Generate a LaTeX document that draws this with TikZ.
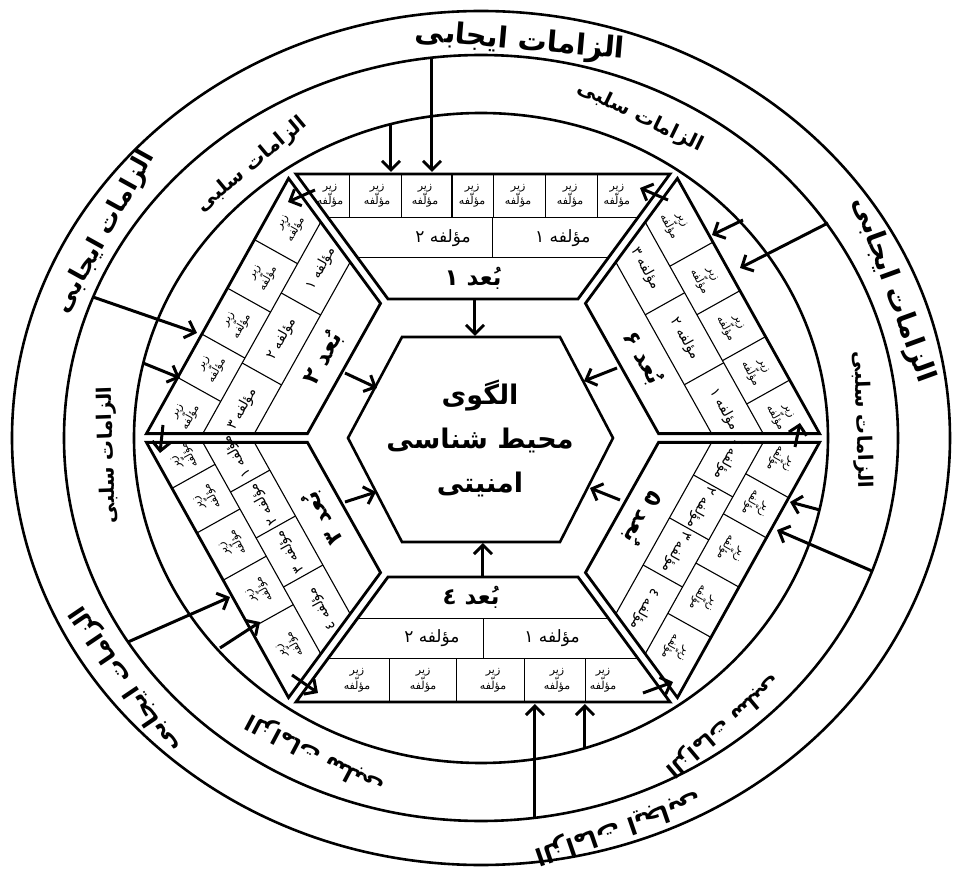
\documentclass[tikz,border=0pt]{standalone}
\usepackage{fontspec}
\usetikzlibrary{calc,arrows.meta}
\TeXXeTstate=1
\newfontfamily\arabicfont[Script=Arabic]{DejaVu Sans}
\newcommand{\RL}[1]{\beginR #1\endR}
\tikzset{
  ringline/.style={line width=2.6pt},
  segline/.style={line width=2.8pt, line join=miter},
  gridline/.style={line width=1.1pt},
  hexline/.style={line width=2.6pt, line join=miter},
  arr/.style={line width=3pt, -{Straight Barb[length=9pt,width=18pt]}},
  outerlabel/.style={font=\arabicfont\bfseries\fontsize{#1}{#1}\selectfont, inner sep=0pt},
  outerlabel/.default=28,
  innerlabel/.style={font=\arabicfont\bfseries\fontsize{#1}{#1}\selectfont, inner sep=0pt},
  innerlabel/.default=20,
  corelabel/.style={font=\arabicfont\bfseries\fontsize{27}{44}\selectfont, align=center, inner sep=0pt},
  dimlabel/.style={font=\arabicfont\bfseries\fontsize{23}{26}\selectfont, inner sep=0pt},
  midlabel/.style={font=\arabicfont\fontsize{14}{16}\selectfont, inner sep=0pt},
  midbig/.style={font=\arabicfont\fontsize{17}{19}\selectfont},
  sublabel/.style={font=\arabicfont\fontsize{11}{12.5}\selectfont, align=center, inner sep=0pt},
}
\newcommand{\mkseg}[5]{%
  \coordinate (#1-Oa) at ($(#2)!5pt!(#3)$);
  \coordinate (#1-Ob) at ($(#3)!5pt!(#2)$);
  \coordinate (#1-Ia) at ($(#4)!5pt!(#5)$);
  \coordinate (#1-Ib) at ($(#5)!5pt!(#4)$);
  \foreach \nm/\f in {R1/0.35,R2/0.67,M1/0.175,M2/0.51,M3/0.835}{%
    \coordinate (#1-\nm a) at ($(#1-Oa)!\f!(#1-Ia)$);
    \coordinate (#1-\nm b) at ($(#1-Ob)!\f!(#1-Ib)$);
  }%
  \draw[segline] (#1-Oa) -- (#1-Ob) -- (#1-Ib) -- (#1-Ia) -- cycle;
  \draw[gridline] (#1-R1a) -- (#1-R1b) (#1-R2a) -- (#1-R2b);
}
\newcommand{\outcells}[4]{%
  \foreach \pos in {#2}{%
    \coordinate (tmp) at ($(#1-Oa)!\pos!(#1-Ob)$);
    \draw[gridline] (tmp) -- ($(#1-R1a)!(tmp)!(#1-R1b)$);
  }%
  \foreach \pos [count=\k] in {#3}{%
    \coordinate (tmp) at ($(#1-Oa)!\pos!(#1-Ob)$);
    \node[sublabel, rotate=#4] (#1-z\k) at ($(#1-M1a)!(tmp)!(#1-M1b)$) {\RL{زیر}\\\RL{مؤلّفه}};
  }%
}
\newcommand{\midcells}[5]{%
  \foreach \pos in {#2}{%
    \coordinate (tmp) at ($(#1-R1a)!\pos!(#1-R1b)$);
    \draw[gridline] (tmp) -- ($(#1-R2a)!(tmp)!(#1-R2b)$);
  }%
  \foreach \pos/\lab [count=\k] in {#3}{%
    \coordinate (tmp) at ($(#1-R1a)!\pos!(#1-R1b)$);
    \node[midlabel, #5, rotate=#4] (#1-m\k) at ($(#1-M2a)!(tmp)!(#1-M2b)$) {\RL{\lab}};
  }%
}
\newcommand{\dimlab}[4]{%
  \node[dimlabel, rotate=#4] (#1-dim) at ($(#1-M3a)!#2!(#1-M3b)$) {\RL{#3}};
}
\begin{document}
\begin{tikzpicture}[x=1pt,y=1pt]
\useasboundingbox (-483,-432) rectangle (471,438);
\fill[white] (-483,-432) rectangle (471,438);
% rings
\draw[ringline] (-2,0) ellipse [x radius=469pt, y radius=427pt];
\draw[ringline] (-2,0) ellipse [x radius=417pt, y radius=383pt];
\draw[ringline] (-2,0) ellipse [x radius=347pt, y radius=325pt];
% hexagon vertices
\coordinate (oL) at (-339,0);
\coordinate (oTL) at (-192,264);
\coordinate (oTR) at (192,264);
\coordinate (oR) at (339,0);
\coordinate (oBR) at (192,-264);
\coordinate (oBL) at (-192,-264);
\coordinate (iL) at (-178,0);
\coordinate (iTL) at (-100,139);
\coordinate (iTR) at (100,139);
\coordinate (iR) at (178,0);
\coordinate (iBR) at (100,-139);
\coordinate (iBL) at (-100,-139);
% segment 1 (top)
\mkseg{s1}{oTL}{oTR}{iTL}{iTR}
\outcells{s1}{0.144,0.283,0.417,0.527,0.666,0.805}{0.091,0.217,0.345,0.471,0.594,0.733,0.858}{0}
\midcells{s1}{0.532}{0.371/مؤلفه ۲,0.758/مؤلفه ۱}{0}{midbig}
\dimlab{s1}{0.455}{بُعد ۱}{0}
% segment 2 (upper left)
\mkseg{s2}{oL}{oTL}{iL}{iTL}
\outcells{s2}{0.22,0.39,0.57,0.76}{0.12,0.305,0.48,0.665,0.86}{61}
\midcells{s2}{0.334,0.665}{0.167/مؤلفه ۳,0.5/مؤلفه ۲,0.833/مؤلفه ۱}{61}{}
\dimlab{s2}{0.5}{بُعد ۲}{61}
% segment 3 (lower left)
\mkseg{s3}{oBL}{oL}{iBL}{iL}
\outcells{s3}{0.27,0.46,0.645,0.82}{0.15,0.365,0.55,0.73,0.89}{119}
\midcells{s3}{0.316,0.548,0.765}{0.16/مؤلفه ٤,0.43/مؤلفه ۳,0.655/مؤلفه ۲,0.88/مؤلفه ۱}{119}{}
\dimlab{s3}{0.5}{بُعد ۳}{119}
% segment 4 (bottom)
\mkseg{s4}{oBL}{oBR}{iBL}{iBR}
\outcells{s4}{0.251,0.430,0.612,0.773}{0.163,0.340,0.527,0.698,0.821}{0}
\midcells{s4}{0.503}{0.335/مؤلفه ۲,0.723/مؤلفه ۱}{0}{midbig}
\dimlab{s4}{0.446}{بُعد ٤}{0}
% segment 5 (lower right)
\mkseg{s5}{oR}{oBR}{iR}{iBR}
\outcells{s5}{0.217,0.374,0.567,0.764}{0.12,0.295,0.47,0.665,0.86}{-119}
\midcells{s5}{0.258,0.461,0.684}{0.13/مؤلفه ۱,0.36/مؤلفه ۲,0.57/مؤلفه ۳,0.84/مؤلفه ٤}{-119}{}
\dimlab{s5}{0.5}{بُعد ۵}{-119}
% segment 6 (upper right)
\mkseg{s6}{oTR}{oR}{iTR}{iR}
\outcells{s6}{0.25,0.44,0.62,0.79}{0.13,0.345,0.53,0.705,0.88}{-61}
\midcells{s6}{0.334,0.665}{0.167/مؤلفه ۳,0.5/مؤلفه ۲,0.833/مؤلفه ۱}{-61}{}
\dimlab{s6}{0.5}{بُعد ۶}{-61}
% central hexagon
\coordinate (cL) at (-135,0);
\coordinate (cTL) at (-81,101);
\coordinate (cTR) at (77,101);
\coordinate (cR) at (130,0);
\coordinate (cBR) at (77,-104);
\coordinate (cBL) at (-81,-104);
\draw[hexline] (cL) -- (cTL) -- (cTR) -- (cR) -- (cBR) -- (cBL) -- cycle;
\node[corelabel] (core) at (-3,0) {\RL{الگوی}\\\RL{محیط شناسی}\\\RL{امنیتی}};
% arrows to the core
\coordinate (k1s) at (-8,138);   \coordinate (k1e) at (-8,102);
\coordinate (k2s) at (-138,65);  \coordinate (k2e) at (-106,50);
\coordinate (k3s) at (-138,-64); \coordinate (k3e) at (-107,-54);
\coordinate (k4s) at (0,-140);   \coordinate (k4e) at (0,-105);
\coordinate (k5s) at (137,-62);  \coordinate (k5e) at (107,-50);
\coordinate (k6s) at (134,70);   \coordinate (k6e) at (101,57);
\foreach \i in {1,...,6}{\draw[arr] (k\i s) -- (k\i e);}
% arrows between neighbouring segments
\coordinate (v1s) at (-168,248); \coordinate (v1e) at (-195,236);
\coordinate (v2s) at (-320,13);  \coordinate (v2e) at (-323,-15);
\coordinate (v3s) at (-191,-237);\coordinate (v3e) at (-165,-255);
\coordinate (v4s) at (160,-255); \coordinate (v4e) at (190,-244);
\coordinate (v5s) at (312,-9);   \coordinate (v5e) at (317,15);
\coordinate (v6s) at (185,238);  \coordinate (v6e) at (157,250);
\foreach \i in {1,...,6}{\draw[arr] (v\i s) -- (v\i e);}
% arrows from the rings
\coordinate (p1s) at (-51,380);  \coordinate (p1e) at (-51,266);
\coordinate (n1s) at (-92,314);  \coordinate (n1e) at (-92,266);
\coordinate (p2s) at (-390,141); \coordinate (p2e) at (-286,105);
\coordinate (n2s) at (-340,75);  \coordinate (n2e) at (-303,60);
\coordinate (p3s) at (-355,-204);\coordinate (p3e) at (-253,-159);
\coordinate (n3s) at (-263,-210);\coordinate (n3e) at (-223,-184);
\coordinate (p4s) at (52,-380);  \coordinate (p4e) at (52,-266);
\coordinate (n4s) at (102,-310); \coordinate (n4e) at (102,-266);
\coordinate (p5s) at (389,-133); \coordinate (p5e) at (294,-92);
\coordinate (n5s) at (337,-72);  \coordinate (n5e) at (307,-64);
\coordinate (p6s) at (345,215);  \coordinate (p6e) at (257,170);
\coordinate (n6s) at (260,218);  \coordinate (n6e) at (229,203);
\foreach \i in {1,...,6}{\draw[arr] (p\i s) -- (p\i e); \draw[arr] (n\i s) -- (n\i e);}
% ring labels
\node[outerlabel=29, rotate=-5]   (pl1) at (37,396)   {\RL{الزامات ایجابی}};
\node[outerlabel=25, rotate=61]   (pl2) at (-378,206) {\RL{الزامات ایجابی}};
\node[outerlabel=24, rotate=124]  (pl3) at (-358,-242){\RL{الزامات ایجابی}};
\node[outerlabel=24, rotate=-161] (pl4) at (135,-390) {\RL{الزامات ایجابی}};
\node[outerlabel=27, rotate=-70]  (pl6) at (410,148)  {\RL{الزامات ایجابی}};
\node[innerlabel, rotate=-26]     (nl1) at (157,321)  {\RL{الزامات سلبی}};
\node[innerlabel, rotate=40]      (nl2) at (-231,273) {\RL{الزامات سلبی}};
\node[innerlabel, rotate=92]      (nl3) at (-375,-17) {\RL{الزامات سلبی}};
\node[innerlabel=22, rotate=152]  (nl4) at (-168,-316){\RL{الزامات سلبی}};
\node[innerlabel=21, rotate=-140] (nl5) at (240,-288) {\RL{الزامات سلبی}};
\node[innerlabel, rotate=-88]     (nl6) at (379,18)   {\RL{الزامات سلبی}};
\end{tikzpicture}
\end{document}
